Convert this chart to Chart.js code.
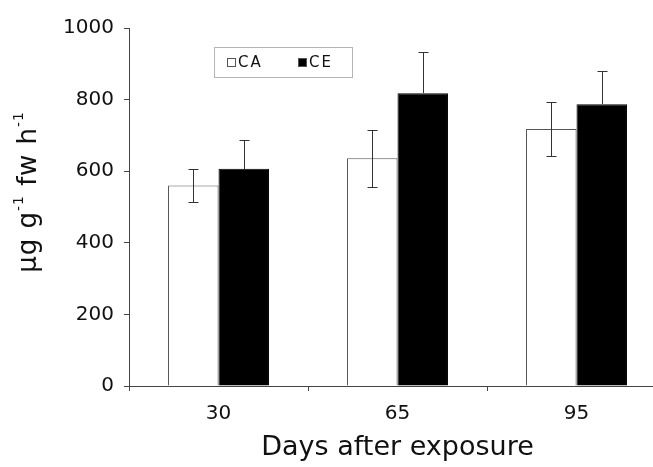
<!DOCTYPE html>
<html lang="en">
<head>
<meta charset="UTF-8">
<title>Days after exposure</title>
<style>
  html, body { margin: 0; padding: 0; background: #fff; overflow: hidden; }
  #chartBox { width: 680px; height: 467px; }
</style>
</head>
<body>
<div id="chartBox"><canvas id="myChart" width="680" height="467"></canvas></div>
<script src="https://cdn.jsdelivr.net/npm/chart.js"></script>
<script>
  const days = ['30', '65', '95'];
  const caValues = [560, 636, 718];
  const caErrors = [45, 80, 75];
  const ceValues = [607, 818, 787];
  const ceErrors = [80, 115, 94];
  const yTicks = [0, 200, 400, 600, 800, 1000];
  const yTitleParts = [['μg g', false], ['-1', true], [' fw h', false], ['-1', true]];

  const FONT = "'DejaVu Sans', 'Liberation Sans', Arial, sans-serif";
  const TEXT = '#111';
  const AXIS = '#444';

  // error bars; on the black bars only the part above the bar shows
  const errorBars = {
    id: 'errorBars',
    afterDatasetsDraw(chart) {
      const ctx = chart.ctx;
      const y = chart.scales.y;
      chart.data.datasets.forEach((ds, i) => {
        const meta = chart.getDatasetMeta(i);
        meta.data.forEach((bar, j) => {
          const v = ds.data[j], e = ds.errors[j];
          const x = Math.round(bar.x) + 0.5;
          const top = Math.round(y.getPixelForValue(v + e)) + 0.5;
          const bot = Math.round(y.getPixelForValue(v - e)) + 0.5;
          const solid = ds.backgroundColor === '#000000';
          ctx.save();
          ctx.strokeStyle = '#333';
          ctx.lineWidth = 1;
          ctx.beginPath();
          ctx.moveTo(x - 5, top); ctx.lineTo(x + 5, top);
          ctx.moveTo(x, top);
          if (solid) {
            ctx.lineTo(x, Math.round(bar.y));
          } else {
            ctx.lineTo(x, bot);
            ctx.moveTo(x - 5, bot); ctx.lineTo(x + 5, bot);
          }
          ctx.stroke();
          ctx.restore();
        });
      });
    }
  };

  // small boxed legend sitting inside the plot
  const boxLegend = {
    id: 'boxLegend',
    afterDraw(chart) {
      const ctx = chart.ctx;
      ctx.save();
      ctx.strokeStyle = '#b5b5b5';
      ctx.lineWidth = 1;
      ctx.strokeRect(214.5, 47.5, 138, 30);
      ctx.font = '15px ' + FONT;
      ctx.textBaseline = 'middle';
      ctx.letterSpacing = '2px';
      const itemX = [227, 298];
      chart.data.datasets.forEach((ds, i) => {
        const x = itemX[i];
        ctx.fillStyle = ds.backgroundColor;
        ctx.fillRect(x + 0.5, 58.5, 8, 8);
        ctx.strokeStyle = '#555';
        ctx.strokeRect(x + 0.5, 58.5, 8, 8);
        ctx.fillStyle = TEXT;
        ctx.fillText(ds.label, x + 11, 63);
      });
      ctx.restore();
    }
  };

  // y title with small raised exponents
  const yTitle = {
    id: 'yTitle',
    afterDraw(chart) {
      const ctx = chart.ctx;
      const big = '26px ' + FONT, small = '14px ' + FONT;
      ctx.save();
      ctx.fillStyle = TEXT;
      ctx.textBaseline = 'alphabetic';
      ctx.letterSpacing = '1px';
      let total = 0;
      yTitleParts.forEach(([t, sup]) => {
        ctx.font = sup ? small : big;
        total += ctx.measureText(t).width;
      });
      ctx.translate(36, 192);
      ctx.rotate(-Math.PI / 2);
      let x = -total / 2;
      yTitleParts.forEach(([t, sup]) => {
        ctx.font = sup ? small : big;
        ctx.fillText(t, x, sup ? -13 : 0);
        x += ctx.measureText(t).width;
      });
      ctx.restore();
    }
  };

  new Chart(document.getElementById('myChart'), {
    type: 'bar',
    data: {
      labels: days,
      datasets: [
        {
          label: 'CA',
          data: caValues,
          errors: caErrors,
          backgroundColor: '#ffffff',
          borderColor: '#555',
          borderWidth: 1
        },
        {
          label: 'CE',
          data: ceValues,
          errors: ceErrors,
          backgroundColor: '#000000',
          borderColor: '#000000',
          borderWidth: 1
        }
      ]
    },
    options: {
      responsive: false,
      animation: false,
      devicePixelRatio: 1,
      categoryPercentage: 0.564,
      barPercentage: 1.0,
      layout: { padding: { left: 0, right: 14, top: 28, bottom: 0 } },
      plugins: {
        legend: { display: false },
        tooltip: { enabled: false }
      },
      scales: {
        x: {
          grid: {
            offset: true,
            drawOnChartArea: false,
            drawTicks: true,
            tickLength: 5,
            color: AXIS
          },
          border: { color: AXIS, width: 1 },
          ticks: { color: TEXT, font: { family: FONT, size: 20 }, padding: 11 },
          title: {
            display: true,
            text: 'Days after exposure',
            color: TEXT,
            font: { family: FONT, size: 27 },
            padding: { top: 4, bottom: 3 }
          },
          afterFit: s => { s.height = 81; }
        },
        y: {
          min: 0,
          max: 1000,
          afterBuildTicks: s => { s.ticks = yTicks.map(v => ({ value: v })); },
          grid: {
            drawOnChartArea: false,
            drawTicks: true,
            tickLength: 5,
            color: AXIS
          },
          border: { color: AXIS, width: 1 },
          ticks: {
            color: TEXT,
            font: { family: FONT, size: 20 },
            padding: 10,
            callback: v => String(v)
          },
          afterFit: s => { s.width = 129; }
        }
      }
    },
    plugins: [errorBars, boxLegend, yTitle]
  });
</script>
</body>
</html>
